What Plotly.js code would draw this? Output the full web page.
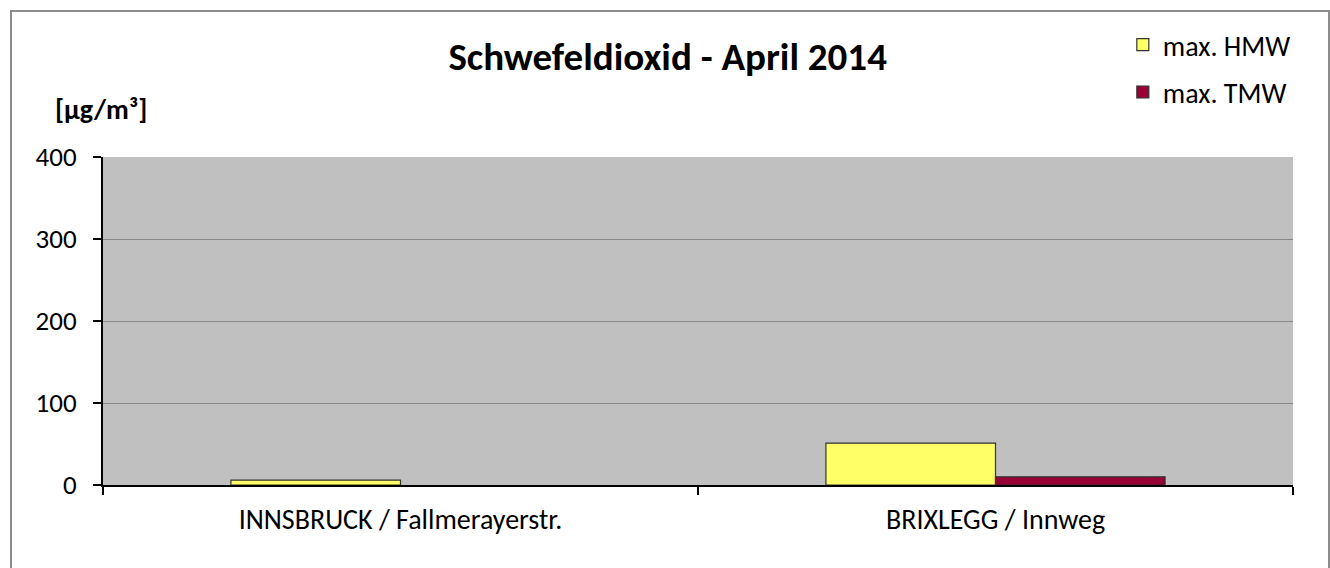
<!DOCTYPE html>
<html><head><meta charset="utf-8">
<script src="https://cdn.plot.ly/plotly-3.0.1.min.js"></script>
<style>
html,body{margin:0;padding:0;background:#fff;}
#wrap{position:relative;width:1330px;height:568px;overflow:hidden;}
#chart{position:absolute;left:0;top:0;width:1330px;height:568px;}
#frame{position:absolute;left:10px;top:10px;width:1316px;height:570px;border:2px solid #8c8c8c;pointer-events:none;}
</style></head>
<body><div id="wrap"><div id="chart"></div><div id="frame"></div></div>
<script>
const categories = ["INNSBRUCK / Fallmerayerstr.", "BRIXLEGG / Innweg"];
const seriesNames = ["max. HMW", "max. TMW"];
const hmwValues = [6, 51];
const tmwValues = [null, 10];
const yTicks = [0, 100, 200, 300, 400];

const font = "Calibri, Carlito, 'Open Sans', 'Liberation Sans', sans-serif";
const traces = [
  {type:'bar', name:seriesNames[0], x:categories, y:hmwValues, legendgroup:'a',
   marker:{color:'#FFFF66', line:{color:'#333333', width:1.2}}},
  {type:'bar', name:seriesNames[1], x:categories, y:tmwValues, legendgroup:'b',
   marker:{color:'#990033', line:{color:'#333333', width:1.2}}}
];
const layout = {
  width:1330, height:568,
  margin:{l:103, r:37, t:157, b:83},
  paper_bgcolor:'#ffffff', plot_bgcolor:'#c0c0c0',
  font:{family:font, size:28, color:'#000'},
  barmode:'group', bargap:0.43, bargroupgap:0,
  title:{text:'<b>Schwefeldioxid - April 2014</b>', x:0.502, xanchor:'center', y:0.9, yanchor:'middle', font:{family:font, size:39, color:'#000'}},
  showlegend:true,
  legend:{x:0.857, xref:'paper', y:0.965, yref:'container', xanchor:'left', yanchor:'top',
          bgcolor:'rgba(0,0,0,0)', font:{family:font, size:28}, tracegroupgap:8, traceorder:'grouped'},
  xaxis:{type:'category', showline:true, linecolor:'#000', linewidth:2, ticks:'outside', tickson:'boundaries',
         ticklen:8, tickwidth:2, tickcolor:'#000', showgrid:false, ticklabelstandoff:8,
         tickfont:{family:font, size:28}},
  yaxis:{range:[0,400], tickvals:yTicks, showline:true, linecolor:'#000', linewidth:2, ticks:'outside',
         ticklen:8, tickwidth:2, tickcolor:'#000', showgrid:true, gridcolor:'#888888', gridwidth:1,
         zeroline:false, ticklabelstandoff:11, tickfont:{family:font, size:27}},
  annotations:[{text:'<b>[µg/m³]</b>', xref:'paper', yref:'paper', x:-0.0015, y:1.146, xanchor:'center', yanchor:'middle',
                showarrow:false, font:{family:font, size:28}}]
};
Plotly.newPlot('chart', traces, layout, {displayModeBar:false, staticPlot:true});
</script></body></html>
